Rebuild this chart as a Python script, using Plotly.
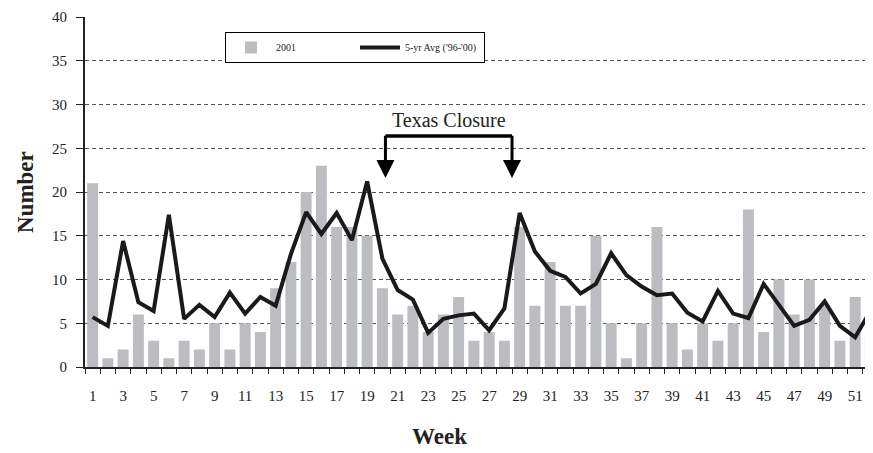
import plotly.graph_objects as go

# --- data ---
weeks = list(range(1, 53))
cases_2001 = [21, 1, 2, 6, 3, 1, 3, 2, 5, 2,
              5, 4, 9, 12, 20, 23, 16, 16, 15, 9,
              6, 7, 4, 6, 8, 3, 4, 3, 16, 7,
              12, 7, 7, 15, 5, 1, 5, 16, 5, 2,
              5, 3, 5, 18, 4, 10, 6, 10, 7, 3,
              8, 4]
avg_5yr = [5.7, 4.7, 14.4, 7.4, 6.4, 17.4, 5.5, 7.1, 5.7, 8.5,
           6.1, 8.0, 7.0, 12.9, 17.7, 15.2, 17.6, 14.5, 21.2, 12.4,
           8.8, 7.7, 3.9, 5.5, 5.9, 6.1, 4.2, 6.7, 17.6, 13.2,
           11.0, 10.3, 8.4, 9.5, 13.0, 10.5, 9.2, 8.2, 8.4, 6.2,
           5.2, 8.7, 6.1, 5.6, 9.5, 7.1, 4.7, 5.4, 7.5, 4.7,
           3.4, 6.4]
week_labels = weeks[::2]
y_ticks = [0, 5, 10, 15, 20, 25, 30, 35, 40]

# Texas closure bracket (weeks / counts)
closure_start, closure_end = 20.2, 28.5
bracket_top, arrow_tip = 26.4, 21.6

SERIF = "Liberation Serif, Times New Roman, serif"

# page body has an 8px margin, so the figure is sized/offset to compensate
W, H = 865, 445
ML, MT, MB = 77, 9, 86
PW, PH = W - ML, H - MT - MB   # plot area in px


def px_x(x):  # page pixel -> paper x
    return (x - 8 - ML) / PW


def px_y(y):  # page pixel -> paper y
    return (H - MB - (y - 8)) / PH


fig = go.Figure()
fig.add_trace(go.Bar(x=weeks, y=cases_2001, name="2001",
                     marker=dict(color="#bcbdc0", line=dict(width=0))))
fig.add_trace(go.Scatter(x=weeks, y=avg_5yr, name="5-yr Avg ('96-'00)", mode="lines",
                         line=dict(color="#1a1a1a", width=4)))

# bracket over the closure period
fig.add_shape(type="line", x0=closure_start, x1=closure_end, y0=bracket_top, y1=bracket_top,
              line=dict(color="black", width=3.5))
for xc in (closure_start, closure_end):
    fig.add_annotation(x=xc, y=arrow_tip, ax=xc, ay=bracket_top + 0.2, xref="x", yref="y",
                       axref="x", ayref="y", showarrow=True, arrowhead=2, arrowsize=1.2,
                       arrowwidth=3, arrowcolor="black", text="")
fig.add_annotation(x=(closure_start + closure_end) / 2, y=bracket_top + 0.4, xref="x", yref="y",
                   yanchor="bottom", showarrow=False, text="Texas Closure",
                   font=dict(family=SERIF, size=20, color="#222"))

# axis titles
fig.add_annotation(text="<b>Number</b>", x=px_x(25), y=0.5, xref="paper", yref="paper",
                   xanchor="center", yanchor="middle", textangle=-90, showarrow=False,
                   font=dict(family=SERIF, size=23, color="#222"))
fig.add_annotation(text="<b>Week</b>", x=px_x(439), y=px_y(436), xref="paper", yref="paper",
                   xanchor="center", yanchor="middle", showarrow=False,
                   font=dict(family=SERIF, size=23, color="#222"))

fig.update_layout(
    width=W, height=H,
    margin=dict(l=ML, r=0, t=MT, b=MB),
    plot_bgcolor="white", paper_bgcolor="white",
    bargap=0.28,
    font=dict(family=SERIF, size=14, color="#222"),
    legend=dict(orientation="h", x=px_x(225), y=px_y(32),
                xanchor="left", yanchor="top", bordercolor="black", borderwidth=1,
                bgcolor="white", font=dict(family=SERIF, size=10, color="#222"),
                entrywidth=74, itemwidth=40),
    showlegend=True,
)
fig.update_xaxes(range=[0.5, 52.17], tickvals=week_labels, ticks="", showgrid=False,
                 showline=True, linecolor="#222", linewidth=2, zeroline=False,
                 ticklabelstandoff=14, tickfont=dict(family=SERIF, size=15),
                 minor=dict(tick0=0.5, dtick=1, ticks="outside", ticklen=5,
                            tickcolor="#222", tickwidth=1, showgrid=False))
fig.update_yaxes(range=[0, 40], tickvals=y_ticks, ticks="outside", ticklen=7,
                 tickcolor="#222", showline=True, linecolor="#222", linewidth=2,
                 showgrid=True, gridcolor="#555", gridwidth=1, griddash="4px,3px",
                 zeroline=False, ticklabelstandoff=6, tickfont=dict(family=SERIF, size=15))

fig.write_html("out.html")
